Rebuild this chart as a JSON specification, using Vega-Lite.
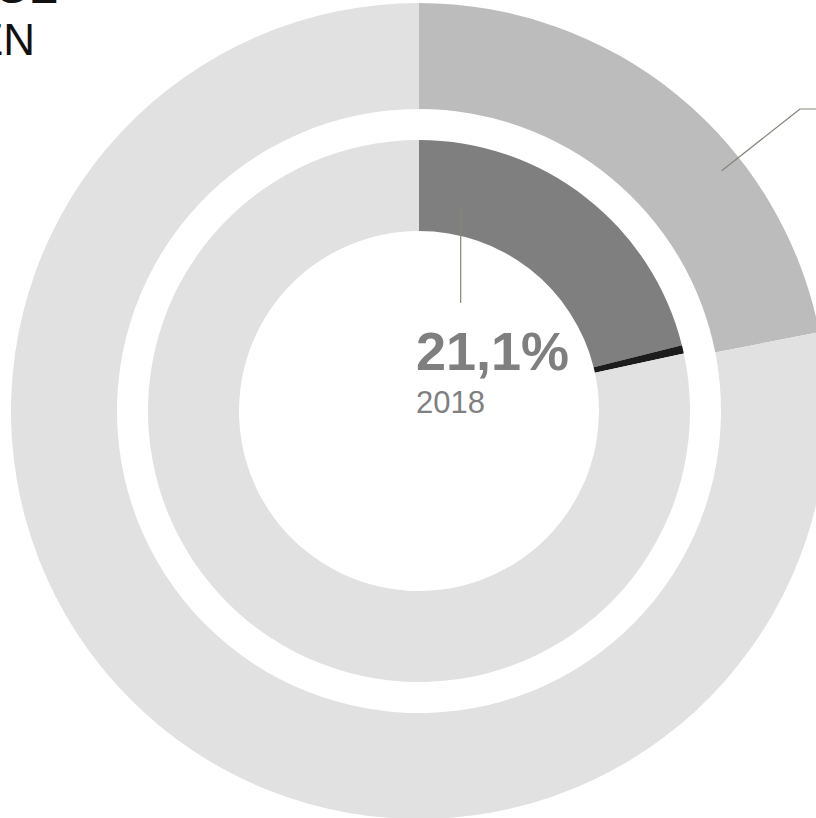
{
  "$schema": "https://vega.github.io/schema/vega-lite/v6.json",
  "width": 838,
  "height": 822,
  "padding": 0,
  "autosize": {"type": "none"},
  "background": "white",
  "config": {"view": {"stroke": null}},
  "datasets": {
    "outer": [
      {"part": "2019", "share": 21.9, "idx": 1},
      {"part": "Rest 2019", "share": 78.1, "idx": 2}
    ],
    "inner": [
      {"part": "2018", "share": 21.1, "idx": 1},
      {"part": "Marker", "share": 0.5, "idx": 2},
      {"part": "Rest 2018", "share": 78.4, "idx": 3}
    ],
    "valueLabel": [
      {"label": "21,1%", "px": -3, "py": 41}
    ],
    "yearLabel": [
      {"label": "2018", "px": -3, "py": -2}
    ],
    "titleText": [
      {"label": "GE", "px": -361, "py": 408},
      {"label": "EN", "px": -384, "py": 356}
    ],
    "leaders": [
      {"px": 41.7, "py": 204, "px2": 41.7, "py2": 108},
      {"px": 302.7, "py": 240.3, "px2": 381, "py2": 302},
      {"px": 381, "py": 302, "px2": 419, "py2": 302}
    ]
  },
  "layer": [
    {
      "data": {"name": "outer"},
      "mark": {"type": "arc", "radius": 408, "radius2": 302},
      "encoding": {
        "theta": {"field": "share", "type": "quantitative", "stack": true, "scale": {"domain": [0, 100]}},
        "order": {"field": "idx", "type": "quantitative"},
        "color": {"field": "part", "type": "nominal", "legend": null,
          "scale": {"domain": ["2019", "Rest 2019"], "range": ["#bcbcbc", "#e1e1e1"]}}
      }
    },
    {
      "data": {"name": "inner"},
      "mark": {"type": "arc", "radius": 271, "radius2": 180},
      "encoding": {
        "theta": {"field": "share", "type": "quantitative", "stack": true, "scale": {"domain": [0, 100]}},
        "order": {"field": "idx", "type": "quantitative"},
        "color": {"field": "part", "type": "nominal", "legend": null,
          "scale": {"domain": ["2018", "Marker", "Rest 2018"], "range": ["#7f7f7f", "#1c1c1c", "#e1e1e1"]}}
      }
    },
    {
      "data": {"name": "leaders"},
      "mark": {"type": "rule", "color": "#85857b", "strokeWidth": 1.2},
      "encoding": {
        "x": {"field": "px", "type": "quantitative", "scale": {"domain": [-419, 419]}, "axis": null},
        "y": {"field": "py", "type": "quantitative", "scale": {"domain": [-411, 411]}, "axis": null},
        "x2": {"field": "px2"},
        "y2": {"field": "py2"}
      }
    },
    {
      "data": {"name": "valueLabel"},
      "mark": {"type": "text", "align": "left", "baseline": "alphabetic", "font": "Liberation Sans", "fontSize": 54, "fontWeight": "bold", "color": "#7f7f7f"},
      "encoding": {
        "x": {"field": "px", "type": "quantitative", "scale": {"domain": [-419, 419]}, "axis": null},
        "y": {"field": "py", "type": "quantitative", "scale": {"domain": [-411, 411]}, "axis": null},
        "text": {"field": "label"}
      }
    },
    {
      "data": {"name": "yearLabel"},
      "mark": {"type": "text", "align": "left", "baseline": "alphabetic", "font": "Liberation Sans", "fontSize": 31, "color": "#7f7f7f"},
      "encoding": {
        "x": {"field": "px", "type": "quantitative", "scale": {"domain": [-419, 419]}, "axis": null},
        "y": {"field": "py", "type": "quantitative", "scale": {"domain": [-411, 411]}, "axis": null},
        "text": {"field": "label"}
      }
    },
    {
      "data": {"name": "titleText"},
      "mark": {"type": "text", "align": "right", "baseline": "alphabetic", "font": "Liberation Sans", "fontSize": 44, "color": "#111111"},
      "encoding": {
        "x": {"field": "px", "type": "quantitative", "scale": {"domain": [-419, 419]}, "axis": null},
        "y": {"field": "py", "type": "quantitative", "scale": {"domain": [-411, 411]}, "axis": null},
        "text": {"field": "label"}
      }
    }
  ],
  "resolve": {"scale": {"color": "independent", "theta": "independent"}}
}
